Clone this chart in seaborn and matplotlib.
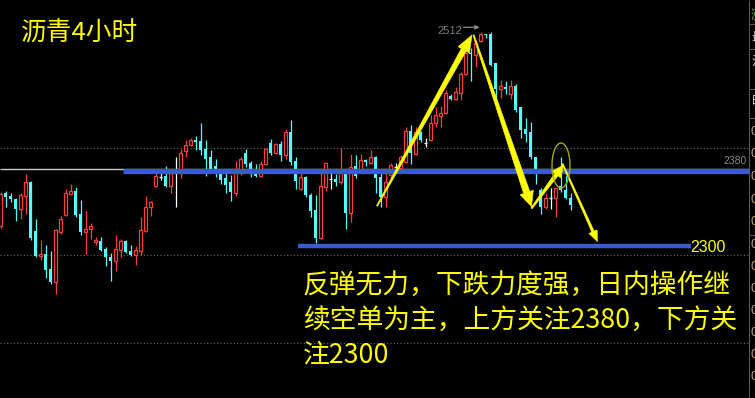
import numpy as np
import pandas as pd
import matplotlib
matplotlib.use("Agg")
import matplotlib.pyplot as plt
import seaborn as sns
from matplotlib.patches import Polygon, Ellipse
from matplotlib.transforms import IdentityTransform

# ---------------- data ----------------
opens = [2326, 2358, 2355, 2352, 2343, 2355, 2368, 2321, 2297, 2299,
         2285, 2272, 2320, 2337, 2357, 2360, 2338, 2320, 2323, 2311,
         2312, 2304, 2296, 2293, 2303, 2312, 2302, 2298, 2302, 2321,
         2344, 2365, 2373, 2374, 2365, 2377, 2377, 2398, 2404, 2409,
         2408, 2400, 2392, 2384, 2378, 2372, 2368, 2358, 2377, 2396,
         2387, 2377, 2374, 2386, 2406, 2396, 2405, 2394, 2416, 2389,
         2362, 2373, 2356, 2342, 2315, 2364, 2371, 2371, 2368, 2380,
         2339, 2384, 2380, 2390, 2387, 2392, 2373, 2354, 2375, 2383,
         2382, 2388, 2417, 2395, 2416, 2406, 2409, 2425, 2432, 2435,
         2451, 2448, 2454, 2472, 2492, 2490, 2504, 2511, 2511, 2483,
         2458, 2460, 2453, 2461, 2440, 2419, 2416, 2392, 2361, 2344,
         2353, 2353, 2365, 2361, 2353]
highs = [2359, 2360, 2358, 2353, 2358, 2376, 2369, 2333, 2313, 2308,
         2302, 2323, 2336, 2362, 2367, 2364, 2351, 2341, 2329, 2316,
         2316, 2306, 2300, 2318, 2314, 2313, 2308, 2307, 2335, 2355,
         2350, 2377, 2377, 2384, 2379, 2392, 2400, 2409, 2411, 2413,
         2425, 2409, 2399, 2391, 2379, 2377, 2375, 2389, 2392, 2400,
         2389, 2386, 2389, 2401, 2410, 2406, 2408, 2419, 2428, 2392,
         2377, 2374, 2358, 2356, 2380, 2388, 2377, 2376, 2401, 2381,
         2395, 2394, 2395, 2391, 2399, 2393, 2377, 2377, 2387, 2387,
         2394, 2421, 2423, 2421, 2417, 2411, 2433, 2440, 2441, 2457,
         2453, 2460, 2474, 2493, 2497, 2505, 2512, 2511, 2512, 2483,
         2466, 2465, 2466, 2463, 2440, 2430, 2426, 2392, 2363, 2358,
         2363, 2363, 2392, 2374, 2358]
lows = [2324, 2344, 2349, 2331, 2333, 2338, 2313, 2296, 2294, 2276,
        2271, 2261, 2319, 2336, 2356, 2335, 2318, 2299, 2314, 2308,
        2302, 2288, 2273, 2283, 2296, 2300, 2297, 2289, 2298, 2320,
        2336, 2364, 2370, 2364, 2358, 2344, 2372, 2392, 2403, 2399,
        2394, 2374, 2380, 2373, 2367, 2358, 2350, 2355, 2375, 2383,
        2373, 2373, 2373, 2385, 2394, 2395, 2389, 2391, 2385, 2362,
        2361, 2354, 2335, 2310, 2314, 2360, 2362, 2365, 2367, 2323,
        2330, 2372, 2378, 2384, 2386, 2358, 2344, 2344, 2370, 2380,
        2380, 2387, 2386, 2394, 2407, 2402, 2408, 2421, 2421, 2434,
        2447, 2447, 2447, 2471, 2465, 2479, 2503, 2507, 2480, 2441,
        2449, 2453, 2448, 2436, 2411, 2407, 2391, 2367, 2338, 2343,
        2343, 2335, 2359, 2352, 2342]
closes = [2357, 2354, 2352, 2343, 2356, 2368, 2315, 2297, 2299, 2284,
          2272, 2322, 2333, 2358, 2360, 2337, 2320, 2323, 2326, 2313,
          2303, 2296, 2293, 2304, 2312, 2301, 2298, 2303, 2322, 2344,
          2349, 2374, 2373, 2365, 2377, 2377, 2396, 2404, 2409, 2407,
          2399, 2391, 2381, 2377, 2370, 2366, 2359, 2377, 2391, 2386,
          2376, 2374, 2386, 2400, 2396, 2405, 2394, 2416, 2388, 2369,
          2373, 2356, 2341, 2315, 2365, 2387, 2371, 2368, 2378, 2339,
          2383, 2374, 2390, 2388, 2392, 2372, 2354, 2368, 2385, 2383,
          2392, 2417, 2396, 2416, 2409, 2406, 2425, 2433, 2435, 2454,
          2448, 2455, 2472, 2492, 2491, 2502, 2511, 2510, 2481, 2458,
          2461, 2458, 2461, 2438, 2418, 2415, 2392, 2376, 2344, 2353,
          2353, 2363, 2361, 2353, 2346]

title = "沥青4小时"
comment_lines = ["反弹无力，下跌力度强，日内操作继",
                 "续空单为主，上方关注2380，下方关",
                 "注2300"]
level_upper = 2380
level_lower = 2300
peak_label = "2512"
grid_levels = [2401, 2298.4, 2214]

# ---------------- style ----------------
sns.set_theme(style="dark", rc={"axes.facecolor": "black",
                                "figure.facecolor": "black",
                                "savefig.facecolor": "black"})
plt.rcParams['font.family'] = ['Noto Sans CJK SC', 'DejaVu Sans']

RED = "#ff3b3b"
CYAN = "#54fcfc"
BLUE = "#3a5bd0"
YEL = "#ffff00"
NUMFONT = ['Liberation Sans', 'DejaVu Sans']

df = pd.DataFrame({"o": opens, "h": highs, "l": lows, "c": closes})
df["x"] = np.arange(len(df))
df["kind"] = np.where(df.c > df.o, "up", np.where(df.c < df.o, "down", "doji"))
colmap = {"up": RED, "down": CYAN, "doji": "white"}

fig = plt.figure(figsize=(7.55, 3.98), dpi=100)
ax = fig.add_axes([0, 0, 1, 1])
ax.set_xlim(-0.1, 150.9)
ax.set_ylim(2161.1, 2543.2)
ax.set_axis_off()

# grid (dotted)
for g in grid_levels:
    ax.hlines(g, -0.1, 149.7, colors="#6a6a6a", linestyles=(0, (1, 2)), lw=0.8, zorder=1)
# thin 2380 line
ax.hlines(2380.7, -0.1, 149.7, colors="#c8c8c8", lw=1.0, zorder=1)

# wicks
ax.vlines(df.x, df.l, df.h, colors=[colmap[k] for k in df.kind], lw=0.9, zorder=2)

up = df[df.kind == "up"]
ax.bar(up.x, np.maximum(up.c - up.o, 0.9), bottom=up.o, width=0.5,
       facecolor="black", edgecolor=RED, lw=0.9, zorder=3)
dn = df[df.kind == "down"]
ax.bar(dn.x, np.maximum(dn.o - dn.c, 1.0), bottom=dn.c, width=0.62,
       color=CYAN, lw=0, zorder=3)
dj = df[df.kind == "doji"]
ax.hlines(dj.o, dj.x - 0.35, dj.x + 0.35, colors="white", lw=0.9, zorder=3)

# blue drawn levels
ax.hlines(level_upper - 0.5, 24.5, 149.6, colors=BLUE, lw=3.8, zorder=4)
ax.hlines(level_lower + 7, 59.5, 138, colors=BLUE, lw=3.2, zorder=4)
ax.text(137.9, level_lower + 6, str(level_lower), color=YEL, fontsize=11.5,
        family=NUMFONT, va='center', ha='left', zorder=6)
ax.text(149.3, level_upper + 9, str(level_upper), color="#8a8a8a", fontsize=7.5,
        family=NUMFONT, va='center', ha='right', zorder=6)

# peak label with arrow
ipk = int(np.argmax(highs))
ax.text(ipk - 6.2, highs[ipk] + 1.5, peak_label, color="#7a7a7a", fontsize=8,
        family=NUMFONT, ha='center', va='center', zorder=6)
ax.annotate('', xy=(ipk - 0.2, highs[ipk] + 5), xytext=(ipk - 3.4, highs[ipk] + 5),
            arrowprops=dict(arrowstyle='-|>', color="#8a8a8a", lw=0.9,
                            mutation_scale=6, shrinkA=0, shrinkB=0), zorder=6)

# tapered arrows
def taper_arrow(start, end, w_tail, w_neck, head_w, head_len, color=YEL):
    t = ax.transData
    p0 = np.array(t.transform(start))
    p1 = np.array(t.transform(end))
    d = p1 - p0
    u = d / np.hypot(*d)
    n = np.array([-u[1], u[0]])
    pb = p1 - u * head_len
    pts = [p0 + n * w_tail / 2, pb + n * w_neck / 2, pb + n * head_w / 2, p1,
           pb - n * head_w / 2, pb - n * w_neck / 2, p0 - n * w_tail / 2]
    ax.add_patch(Polygon(pts, closed=True, transform=IdentityTransform(),
                         facecolor=color, edgecolor=color, lw=0.4, zorder=7))

taper_arrow((75.3, 2345.4), (94.3, 2509.6), 1.2, 5.5, 13, 17)
taper_arrow((94.6, 2509.6), (106.2, 2344.8), 1.2, 6.5, 14, 15)
taper_arrow((106.2, 2343.2), (112.6, 2384.8), 1.5, 4.0, 11, 12)
taper_arrow((112.4, 2386.0), (119.4, 2311.2), 1.2, 2.5, 9, 11)

ax.add_patch(Ellipse((112.1, 2384.3), 3.6, 43.2, fill=False,
                     edgecolor="#a8a800", lw=1.0, zorder=7))

# right side panel remnants
ax.vlines(149.7, 2161.1, 2543.2, colors="#5a5a5a", lw=0.8, zorder=5)
for yp in [24, 49, 89, 118, 235]:
    fig.add_artist(plt.Line2D([749.5 / 755, 1], [1 - yp / 398] * 2, color="#5a5a5a", lw=0.8))
fig.text(751 / 755, 1 - 15 / 398, "涨", color="#30d030", fontsize=9, va='center')
for yp, ch in [(37, "最"), (61, "注"), (101, "昨")]:
    fig.text(751 / 755, 1 - yp / 398, ch, color="#d8d8d8", fontsize=9, va='center')
for yp in [132, 154, 177, 200, 222, 245, 267, 289, 311, 333, 355, 377]:
    fig.text(750.5 / 755, 1 - yp / 398, "0", color="#c8a070", fontsize=9,
             family=NUMFONT, va='center')

# texts
fig.text(21 / 755, 1 - 33.5 / 398, title, color=YEL, fontsize=18.5, va='center', ha='left')
for i, line in enumerate(comment_lines):
    fig.text(303 / 755, 1 - (285 + 35 * i) / 398, line, color=YEL, fontsize=19.3,
             va='center', ha='left')

fig.savefig("out.png", dpi=100, facecolor="black")
